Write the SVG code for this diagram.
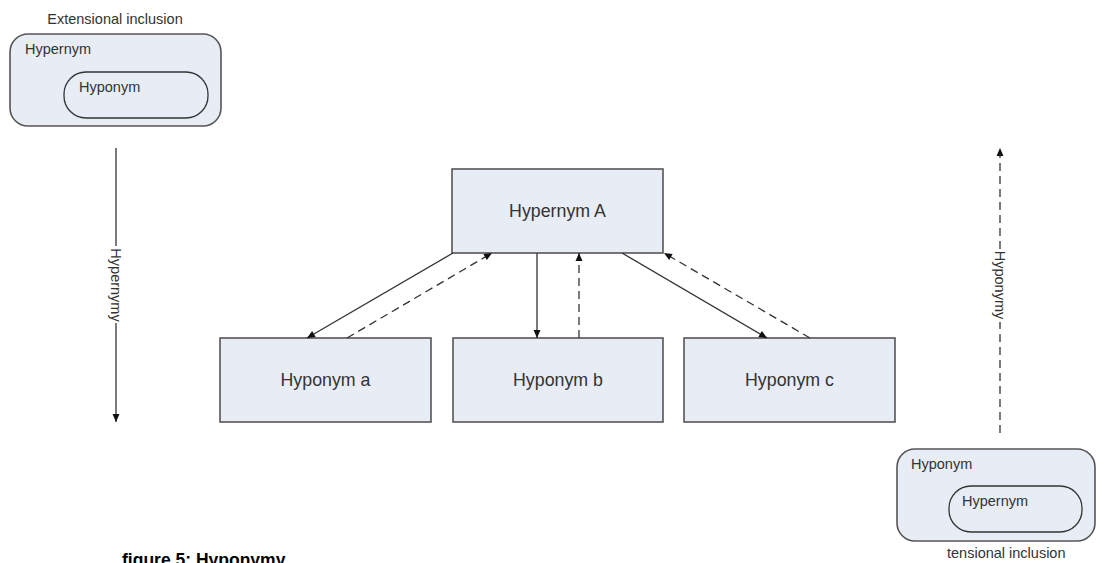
<svg xmlns="http://www.w3.org/2000/svg" width="1106" height="563" viewBox="0 0 1106 563">
  <style>
    text { font-family: "Liberation Sans", Arial, sans-serif; fill: #333; }
    .box { fill: #e8ecf5; stroke: #555; stroke-width: 1.6; }
    .inner { fill: #e8ecf5; stroke: #333; stroke-width: 1.3; }
    .lbl { font-size: 17.8px; text-anchor: middle; }
    .sm { font-size: 14.5px; }
    .conn { stroke: #333; stroke-width: 1.3; fill: none; }
    .dash { stroke-dasharray: 8 5; }
    .cap { font-family: "Liberation Sans", Arial, sans-serif; font-weight: bold; font-size: 17.5px; fill: #000; }
  </style>
  <defs>
    <marker id="head" markerUnits="userSpaceOnUse" markerWidth="10" markerHeight="10" viewBox="0 0 10 10" refX="9" refY="5" orient="auto">
      <path d="M1,1.5 L9,5 L1,8.5 Z" fill="#111"/>
    </marker>
  </defs>

  <!-- extensional inclusion panel -->
  <g id="extensional">
    <text class="sm" x="115" y="24" text-anchor="middle">Extensional inclusion</text>
    <rect class="box" x="10" y="34" width="211" height="92" rx="18"/>
    <text class="sm" x="25" y="54">Hypernym</text>
    <rect class="inner" x="64" y="72" width="144" height="46" rx="22"/>
    <text class="sm" x="79" y="92">Hyponym</text>
  </g>

  <!-- intensional inclusion panel -->
  <g id="intensional">
    <rect class="box" x="897" y="449" width="198" height="92" rx="18"/>
    <text class="sm" x="911" y="469">Hyponym</text>
    <rect class="inner" x="949" y="486" width="133" height="46" rx="22"/>
    <text class="sm" x="962" y="506">Hypernym</text>
    <text class="sm" x="947" y="558">tensional inclusion</text>
  </g>

  <!-- hierarchy nodes -->
  <g id="hypernymA">
    <rect class="box" x="452" y="169" width="211" height="84"/>
    <text class="lbl" x="557.5" y="217">Hypernym A</text>
  </g>
  <g id="hyponymA">
    <rect class="box" x="220" y="338" width="211" height="84"/>
    <text class="lbl" x="325.5" y="386">Hyponym a</text>
  </g>
  <g id="hyponymB">
    <rect class="box" x="453" y="338" width="210" height="84"/>
    <text class="lbl" x="558" y="386">Hyponym b</text>
  </g>
  <g id="hyponymC">
    <rect class="box" x="684" y="338" width="211" height="84"/>
    <text class="lbl" x="789.5" y="386">Hyponym c</text>
  </g>

  <!-- connectors -->
  <g id="connectors">
    <line class="conn" x1="453" y1="253" x2="307" y2="338" marker-end="url(#head)"/>
    <line class="conn dash" x1="347" y1="338" x2="492" y2="253" marker-end="url(#head)"/>
    <line class="conn" x1="537" y1="253" x2="537" y2="338" marker-end="url(#head)"/>
    <line class="conn dash" x1="579" y1="338" x2="579" y2="253" marker-end="url(#head)"/>
    <line class="conn" x1="622" y1="253" x2="767" y2="338" marker-end="url(#head)"/>
    <line class="conn dash" x1="810" y1="338" x2="664" y2="253" marker-end="url(#head)"/>

    <!-- hypernymy axis -->
    <line class="conn" x1="116" y1="148" x2="116" y2="246"/>
    <line class="conn" x1="116" y1="323" x2="116" y2="422" marker-end="url(#head)"/>
    <text class="sm" transform="translate(111 285) rotate(90)" text-anchor="middle">Hypernymy</text>

    <!-- hyponymy axis -->
    <line class="conn dash" x1="1000" y1="433" x2="1000" y2="322"/>
    <line class="conn dash" x1="1000" y1="249" x2="1000" y2="148" marker-end="url(#head)"/>
    <text class="sm" transform="translate(995 285) rotate(90)" text-anchor="middle">Hyponymy</text>
  </g>

  <text class="cap" x="122" y="566">figure 5: Hyponymy</text>
</svg>
